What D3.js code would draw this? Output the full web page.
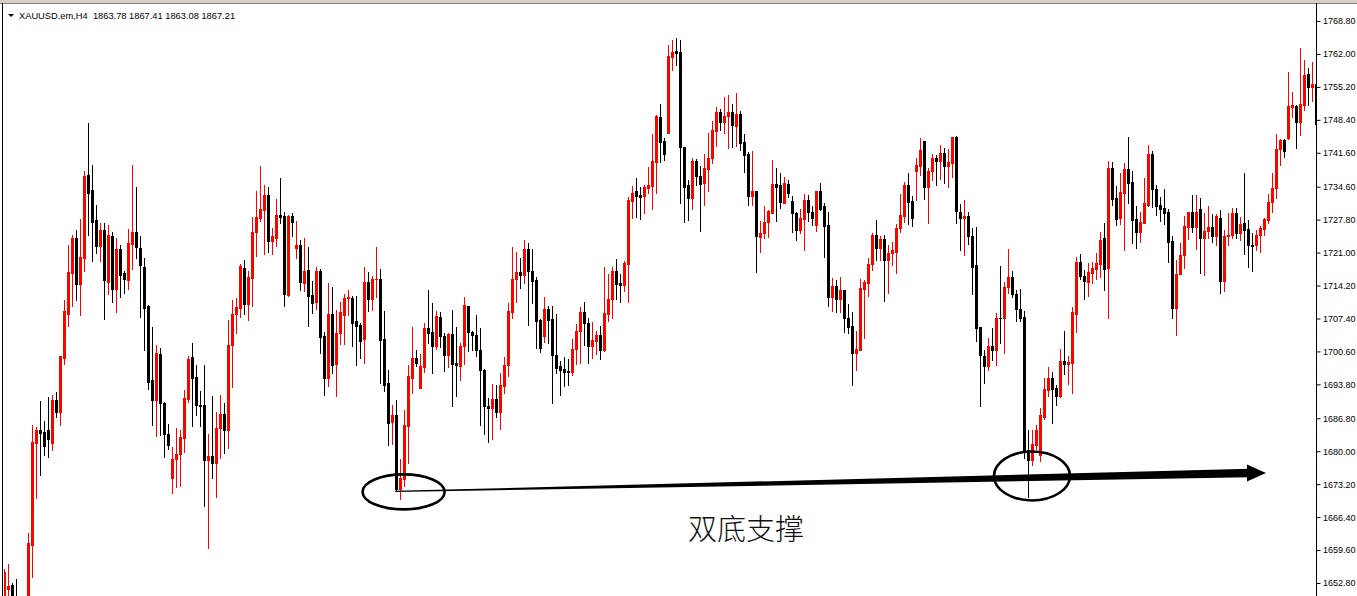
<!DOCTYPE html>
<html><head><meta charset="utf-8">
<script src="https://cdn.jsdelivr.net/npm/d3@7/dist/d3.min.js"></script>
<style>html,body{margin:0;padding:0;background:#fff;overflow:hidden}</style>
</head><body><svg id="c" width="1357" height="596"></svg>
<script>
const title = "XAUUSD.em,H4  1863.78 1867.41 1863.08 1867.21";
const annotationText = "双底支撑";
const tickLabels = ["1768.80","1762.00","1755.20","1748.40","1741.60","1734.60","1727.80","1721.00","1714.20","1707.40","1700.60","1693.80","1686.80","1680.00","1673.20","1666.40","1659.60","1652.80"];

const opens = [1645.0,1651.5,1652.3,1649.0,1644.0,1646.5,1646.0,1660.7,1681.6,1684.4,
1684.0,1684.3,1681.6,1690.6,1688.0,1699.3,1708.4,1716.7,1724.0,1714.5,
1719.9,1737.1,1733.9,1727.7,1722.3,1725.6,1715.0,1724.4,1713.4,1721.8,
1716.8,1715.4,1722.7,1725.2,1722.0,1718.1,1710.0,1694.6,1690.5,1700.1,
1690.0,1683.5,1674.5,1678.4,1679.4,1682.8,1690.8,1699.4,1695.3,1689.6,
1689.5,1678.1,1679.0,1677.5,1684.8,1687.6,1684.3,1702.0,1708.4,1709.5,
1717.9,1710.3,1715.8,1725.2,1728.1,1729.8,1732.8,1723.3,1724.0,1728.7,
1728.5,1712.3,1728.5,1722.0,1722.5,1714.7,1717.5,1712.3,1710.8,1717.3,
1703.7,1695.2,1708.4,1697.9,1704.4,1708.2,1711.7,1711.7,1706.8,1706.1,
1703.1,1714.9,1711.5,1715.5,1715.6,1703.1,1694.1,1686.1,1687.4,1672.1,
1674.2,1685.2,1695.2,1699.2,1693.0,1697.3,1705.4,1704.6,1701.7,1707.8,
1703.8,1699.8,1704.1,1698.3,1697.6,1701.7,1710.0,1704.6,1704.0,1700.8,
1696.7,1689.3,1688.9,1690.8,1688.0,1693.4,1697.7,1708.7,1715.5,1716.9,
1716.4,1721.8,1717.3,1715.3,1707.0,1703.8,1709.4,1707.2,1699.9,1697.5,
1696.9,1696.5,1696.3,1701.1,1704.9,1708.7,1706.4,1701.8,1702.8,1704.0,
1700.9,1708.4,1711.4,1717.3,1714.7,1714.3,1718.6,1731.7,1733.7,1732.8,
1732.7,1734.3,1734.7,1739.7,1749.0,1744.0,1745.7,1761.4,1762.7,1762.3,
1742.7,1734.9,1732.3,1739.9,1736.8,1735.3,1738.3,1740.6,1746.1,1750.0,
1747.9,1749.1,1750.0,1747.1,1749.6,1743.8,1741.4,1732.7,1733.8,1724.2,
1725.0,1727.4,1729.2,1735.2,1734.9,1731.3,1735.2,1731.7,1729.1,1725.6,
1727.9,1731.9,1729.4,1726.6,1733.8,1730.6,1726.6,1711.9,1714.0,1711.5,
1713.2,1707.6,1705.9,1700.2,1700.8,1713.4,1714.7,1718.6,1724.6,1722.0,
1723.8,1719.4,1720.9,1721.2,1726.1,1728.6,1735.0,1731.7,1737.9,1738.9,
1744.0,1734.5,1737.9,1740.6,1739.9,1741.6,1738.9,1739.5,1744.8,1729.4,
1728.2,1728.5,1724.4,1718.4,1705.7,1699.7,1697.5,1701.8,1700.9,1707.6,
1707.4,1713.8,1716.0,1712.5,1709.4,1707.8,1680.3,1678.1,1681.3,1679.2,
1687.0,1692.7,1695.1,1693.0,1691.4,1698.7,1697.9,1698.3,1708.4,1719.0,
1716.2,1715.0,1716.8,1717.6,1718.6,1724.0,1717.9,1738.4,1732.2,1728.1,
1733.4,1738.2,1735.6,1727.9,1725.2,1727.2,1730.9,1741.4,1734.1,1730.9,
1730.2,1729.3,1723.3,1709.6,1716.5,1720.5,1726.2,1729.4,1726.2,1730.0,
1724.0,1725.5,1726.3,1724.4,1728.2,1715.1,1724.4,1724.6,1729.2,1725.0,
1727.2,1725.9,1722.6,1722.5,1724.7,1725.9,1727.7,1731.5,1734.4,1742.4,
1744.2,1744.6,1751.1,1751.3,1747.9,1751.5,1757.8,1755.1,1755.8];

const highs = [1655.6,1656.8,1652.9,1653.6,1648.5,1649.0,1663.2,1685.4,1685.0,1690.4,
1686.3,1691.1,1691.7,1692.2,1699.7,1711.3,1722.5,1724.7,1725.7,1728.0,
1737.8,1747.8,1739.0,1730.9,1727.1,1727.1,1726.6,1725.3,1724.1,1722.5,
1717.1,1725.9,1739.0,1734.5,1724.4,1719.9,1710.2,1705.7,1701.9,1701.4,
1690.2,1685.6,1680.9,1684.8,1684.3,1692.7,1699.7,1702.4,1697.8,1692.5,
1697.7,1683.6,1691.5,1688.0,1691.6,1689.9,1707.0,1711.3,1711.7,1718.6,
1719.4,1717.3,1728.3,1733.7,1738.8,1734.9,1734.5,1726.1,1732.1,1736.4,
1729.3,1728.7,1729.1,1727.6,1723.7,1724.0,1722.1,1715.1,1718.1,1717.7,
1704.6,1714.7,1713.8,1709.1,1710.9,1712.4,1713.2,1712.1,1712.1,1706.5,
1718.0,1716.9,1716.1,1722.1,1717.7,1708.9,1696.8,1689.5,1690.6,1678.4,
1688.6,1697.8,1705.7,1700.8,1700.1,1706.4,1713.2,1710.5,1708.9,1708.7,
1704.3,1704.3,1709.1,1705.7,1702.3,1711.9,1710.0,1704.9,1708.2,1705.4,
1696.9,1691.0,1693.8,1693.7,1696.2,1699.4,1710.6,1722.1,1721.2,1719.9,
1723.7,1722.9,1721.8,1716.0,1707.2,1711.9,1709.9,1709.9,1708.4,1698.7,
1699.4,1699.0,1703.2,1706.3,1709.8,1710.8,1707.4,1706.7,1704.8,1705.8,
1718.1,1716.6,1718.1,1719.6,1716.5,1719.2,1732.4,1734.7,1736.4,1734.5,
1735.0,1738.6,1745.4,1749.4,1751.6,1744.6,1763.8,1764.9,1765.3,1764.9,
1742.7,1735.9,1740.5,1740.3,1738.8,1741.4,1745.7,1748.1,1751.1,1750.6,
1753.2,1753.5,1751.6,1753.9,1750.2,1745.4,1741.8,1741.9,1733.8,1727.6,
1730.6,1729.8,1740.1,1738.4,1737.5,1736.5,1735.9,1732.6,1729.4,1729.9,
1733.0,1732.8,1730.7,1733.8,1735.3,1731.2,1729.3,1715.8,1715.3,1716.0,
1713.2,1710.4,1708.8,1704.9,1715.6,1715.3,1719.9,1725.0,1727.7,1724.4,
1724.6,1722.5,1723.1,1726.8,1733.0,1735.6,1737.5,1732.6,1740.6,1744.6,
1744.0,1738.4,1741.4,1741.2,1743.3,1742.5,1742.3,1744.9,1745.0,1731.1,
1731.9,1729.4,1726.1,1726.2,1705.7,1700.8,1703.3,1705.4,1708.5,1718.2,
1714.9,1721.8,1717.1,1713.2,1713.5,1709.0,1684.3,1684.4,1685.4,1688.9,
1695.1,1697.3,1696.4,1693.6,1701.2,1704.9,1699.7,1709.7,1720.0,1720.7,
1717.5,1718.8,1719.0,1721.0,1725.3,1727.2,1739.9,1739.7,1734.7,1737.5,
1739.4,1744.9,1737.8,1730.6,1729.3,1736.3,1743.3,1741.9,1735.0,1732.4,
1734.1,1730.0,1724.4,1719.4,1722.9,1728.5,1729.4,1732.8,1732.8,1732.3,
1729.1,1730.7,1728.9,1728.9,1729.8,1725.6,1729.2,1730.3,1730.3,1728.3,
1737.5,1727.7,1725.0,1725.6,1726.5,1728.1,1733.0,1737.5,1745.4,1744.4,
1744.4,1758.2,1754.1,1751.5,1763.3,1760.8,1759.2,1760.4,1757.0];

const lows = [1641.0,1648.0,1645.0,1643.0,1641.0,1640.5,1644.0,1654.0,1670.3,1675.1,
1679.2,1678.8,1680.3,1687.1,1685.5,1698.1,1705.9,1709.9,1711.3,1708.2,
1717.3,1724.6,1719.2,1720.9,1719.2,1707.3,1712.4,1710.8,1708.7,1711.9,
1712.6,1713.5,1717.6,1719.9,1707.8,1700.9,1692.8,1685.5,1683.1,1683.4,
1678.9,1680.4,1671.3,1672.7,1672.9,1679.9,1690.2,1685.2,1687.4,1685.2,
1668.7,1660.1,1674.5,1670.6,1678.6,1679.6,1680.7,1693.2,1704.3,1707.8,
1708.4,1707.0,1710.0,1720.3,1727.6,1720.8,1721.2,1720.8,1722.4,1727.2,
1710.0,1712.0,1724.4,1719.9,1713.2,1713.0,1705.9,1708.5,1709.4,1700.2,
1691.7,1693.4,1696.1,1691.5,1702.2,1702.2,1708.2,1701.8,1697.8,1699.3,
1698.3,1708.9,1709.1,1711.9,1694.0,1692.5,1681.3,1681.5,1671.9,1670.2,
1672.9,1677.5,1692.1,1697.5,1693.0,1696.4,1702.3,1696.1,1701.1,1701.6,
1696.6,1697.3,1689.3,1691.3,1694.6,1697.9,1700.7,1700.9,1699.6,1685.5,
1683.5,1682.0,1682.5,1687.1,1684.5,1692.0,1695.5,1707.6,1710.8,1713.6,
1714.7,1706.1,1710.6,1701.4,1700.5,1702.6,1702.3,1689.9,1696.1,1691.7,
1693.4,1693.6,1695.8,1697.9,1698.3,1702.0,1698.2,1699.3,1700.1,1699.0,
1700.7,1706.8,1707.4,1711.5,1710.8,1713.0,1710.8,1728.1,1728.3,1728.0,
1729.1,1733.3,1730.0,1733.4,1739.7,1740.1,1745.7,1758.6,1759.7,1731.3,
1727.4,1727.8,1730.0,1735.0,1725.5,1730.8,1733.7,1739.5,1743.1,1746.2,
1745.7,1742.5,1742.7,1743.1,1742.1,1737.7,1730.9,1730.9,1717.0,1721.1,
1724.1,1724.2,1729.1,1727.6,1730.2,1731.2,1732.4,1725.3,1723.5,1725.1,
1721.5,1727.6,1726.6,1725.5,1729.8,1720.0,1710.0,1708.9,1708.7,1708.7,
1704.6,1704.3,1693.7,1696.7,1700.8,1703.4,1712.1,1717.5,1719.4,1719.4,
1711.1,1712.6,1718.4,1716.7,1725.2,1727.4,1726.8,1726.5,1731.9,1737.1,
1732.1,1727.1,1735.9,1734.9,1736.2,1735.4,1734.5,1736.7,1727.2,1721.6,
1720.5,1722.7,1712.5,1702.8,1689.3,1694.0,1696.8,1698.8,1697.7,1702.3,
1700.2,1712.6,1711.9,1706.9,1706.8,1678.6,1670.6,1677.2,1680.5,1677.9,
1686.6,1691.4,1685.9,1689.5,1691.1,1696.0,1693.8,1692.0,1704.6,1715.5,
1711.5,1712.1,1714.7,1715.5,1715.9,1713.2,1707.6,1730.8,1726.7,1727.0,
1721.6,1731.3,1722.9,1722.0,1723.1,1727.1,1730.6,1730.4,1728.7,1727.6,
1726.8,1719.0,1707.6,1704.0,1716.5,1717.9,1723.8,1725.2,1721.8,1716.8,
1716.4,1724.0,1723.2,1722.5,1712.6,1713.0,1722.5,1724.0,1724.0,1723.6,
1720.7,1718.0,1717.3,1721.5,1721.2,1724.6,1727.1,1729.3,1732.2,1739.0,
1740.7,1744.4,1748.9,1742.5,1745.3,1750.4,1751.5,1752.2,1746.0];

const closes = [1655.0,1652.1,1648.0,1646.0,1646.5,1643.5,1661.1,1682.0,1684.3,1683.8,
1681.1,1682.5,1690.6,1688.0,1699.6,1708.9,1716.9,1724.0,1714.5,1720.0,
1736.9,1733.4,1727.4,1722.3,1725.6,1715.3,1724.7,1713.4,1721.8,1716.4,
1715.5,1722.9,1725.2,1722.1,1718.4,1709.6,1694.2,1690.5,1700.3,1689.9,
1683.5,1681.3,1678.4,1679.4,1682.9,1691.0,1699.0,1695.2,1689.5,1689.3,
1678.1,1679.0,1677.5,1684.8,1687.6,1684.3,1702.0,1708.3,1709.8,1718.2,
1710.3,1716.0,1725.3,1728.3,1730.0,1732.8,1723.3,1724.4,1728.7,1728.3,
1712.4,1728.5,1727.3,1722.5,1714.9,1717.3,1712.1,1710.5,1717.3,1703.5,
1695.2,1708.4,1697.7,1704.3,1708.7,1711.7,1711.9,1706.5,1705.9,1702.8,
1714.9,1711.5,1715.5,1715.6,1702.9,1693.6,1685.9,1687.4,1672.1,1674.5,
1685.5,1695.6,1699.2,1698.3,1697.5,1705.4,1704.4,1701.7,1708.0,1703.8,
1699.8,1704.1,1698.1,1697.7,1701.8,1710.2,1704.6,1703.9,1700.8,1696.7,
1689.3,1688.9,1690.8,1688.0,1693.6,1697.8,1708.9,1715.6,1716.9,1716.4,
1721.8,1717.3,1715.1,1706.9,1701.4,1709.4,1707.0,1699.8,1697.1,1696.8,
1696.3,1696.3,1701.1,1704.8,1708.7,1706.4,1701.8,1702.9,1704.0,1700.9,
1708.5,1711.5,1717.1,1714.5,1714.3,1718.8,1731.8,1733.3,1732.7,1732.4,
1734.5,1734.9,1739.9,1749.1,1743.8,1741.4,1761.6,1762.5,1762.1,1742.7,
1734.5,1732.3,1739.9,1736.9,1735.2,1738.4,1740.6,1746.2,1750.0,1747.9,
1749.2,1750.0,1747.4,1749.6,1743.6,1741.2,1732.7,1733.8,1724.4,1725.1,
1727.4,1729.6,1735.2,1734.5,1731.5,1735.3,1733.2,1729.1,1725.6,1728.1,
1731.9,1729.3,1728.1,1733.8,1730.0,1726.5,1711.9,1714.0,1711.5,1713.2,
1707.4,1705.7,1700.2,1701.2,1713.6,1714.9,1718.6,1724.6,1722.0,1723.8,
1719.4,1721.0,1721.5,1726.1,1728.7,1735.0,1731.5,1728.2,1739.0,1742.2,
1734.5,1737.9,1740.6,1739.9,1741.6,1738.9,1739.7,1744.8,1729.6,1728.2,
1728.6,1724.4,1718.1,1705.5,1699.8,1697.5,1701.8,1700.9,1707.6,1707.4,
1713.8,1716.0,1712.4,1709.3,1707.6,1679.9,1678.1,1681.5,1684.3,1687.4,
1692.8,1695.1,1692.8,1691.5,1698.7,1697.9,1698.4,1708.7,1719.0,1716.1,
1715.1,1716.9,1717.9,1718.8,1723.7,1717.7,1738.4,1732.1,1728.0,1733.6,
1738.2,1735.4,1727.7,1725.2,1727.4,1731.2,1741.4,1734.2,1730.7,1730.0,
1729.2,1723.1,1709.6,1716.6,1720.6,1726.5,1729.4,1726.2,1729.4,1724.0,
1725.5,1726.3,1724.4,1728.5,1715.1,1724.4,1724.7,1729.1,1725.0,1727.0,
1725.6,1722.6,1722.3,1724.7,1726.1,1727.9,1731.5,1734.4,1742.4,1744.2,
1742.0,1751.3,1751.5,1747.9,1751.6,1757.7,1755.1,1755.8,1747.6];

// annotation anchors in data space: [bar index, price]
const supportStart = [97.8, 1671.7];
const supportEnd = [311.5, 1675.5];
const arrowTip = [315.5, 1675.5];
const bottom1 = [99.9, 1671.6];
const bottom2 = [257.0, 1674.9];

const W = 1357, H = 596;
const plot = {left: 4, right: 1316, top: 4, bottom: 596};
const svg = d3.select("#c");

const candles = opens.map((o, i) => ({i, o, h: highs[i], l: lows[i], c: closes[i]}));

const x = d3.scaleLinear().domain([0, candles.length - 1]).range([4, 1316]);
const tickValues = tickLabels.map(Number);
const y = d3.scaleLinear().domain([1652.8, 1768.8]).range([583, 21]);

svg.append("rect").attr("width", W).attr("height", H).attr("fill", "#fff");

svg.append("defs").append("clipPath").attr("id", "clip")
  .append("rect").attr("x", plot.left).attr("y", plot.top)
  .attr("width", plot.right - plot.left).attr("height", plot.bottom - plot.top);

const g = svg.append("g").attr("clip-path", "url(#clip)").attr("shape-rendering", "crispEdges");
const col = d => d.c >= d.o ? "#ff0000" : "#000000";

g.selectAll("rect.wick").data(candles).join("rect").attr("class", "wick")
  .attr("x", d => Math.round(x(d.i)))
  .attr("y", d => Math.round(y(d.h)))
  .attr("width", 1)
  .attr("height", d => Math.max(1, Math.round(y(d.l)) - Math.round(y(d.h)) + 1))
  .attr("fill", col);

g.selectAll("rect.body").data(candles).join("rect").attr("class", "body")
  .attr("x", d => Math.round(x(d.i)) - 1)
  .attr("y", d => Math.round(y(Math.max(d.o, d.c))))
  .attr("width", 3)
  .attr("height", d => Math.max(1, Math.round(y(Math.min(d.o, d.c))) - Math.round(y(Math.max(d.o, d.c))) + 1))
  .attr("fill", col);

// frame
svg.append("rect").attr("x", 0).attr("y", 0).attr("width", W).attr("height", 3).attr("fill", "#d4d0c8");
svg.append("line").attr("x1", 0).attr("x2", W).attr("y1", 3.5).attr("y2", 3.5).attr("stroke", "#808080");
svg.append("line").attr("x1", 2.5).attr("x2", 2.5).attr("y1", 3).attr("y2", H).attr("stroke", "#000");

// right axis
const axis = d3.axisRight(y).tickValues(tickValues).tickFormat((d, i) => tickLabels[i]).tickSize(4).tickPadding(3);
const ax = svg.append("g").attr("transform", "translate(1316.5,0)").call(axis);
ax.select(".domain").attr("stroke", "#000").attr("d", `M0,3V${H}`);
ax.selectAll(".tick line").attr("stroke", "#000");
ax.selectAll(".tick text").attr("fill", "#000").attr("font-family", "'Liberation Sans', Arial, sans-serif")
  .attr("font-size", 9).attr("x", 6.5);

// header
svg.append("path").attr("d", "M8,14 L14,14 L11,17 Z").attr("fill", "#000");
svg.append("text").attr("x", 19).attr("y", 16).attr("dy", "0.35em").text(title)
  .style("white-space", "pre").attr("xml:space", "preserve")
  .attr("font-family", "'Liberation Sans', Arial, sans-serif").attr("font-size", 9.3)
  .attr("fill", "#000");

// annotations
const ann = svg.append("g");
const sx = x(supportStart[0]), sy = y(supportStart[1]);
const ex = x(supportEnd[0]), ey = y(supportEnd[1]);
const tx = x(arrowTip[0]), ty = y(arrowTip[1]);
const w0 = 0.6, w1 = 4.2;
ann.append("path").attr("fill", "#000")
  .attr("d", `M${sx},${sy - w0} L${ex},${ey - w1} L${ex},${ey + w1} L${sx},${sy + w0} Z`);
ann.append("path").attr("fill", "#000")
  .attr("d", `M${ex - 3},${ty - 8.5} L${tx},${ty} L${ex - 3},${ty + 8.5} Z`);
ann.append("ellipse").attr("cx", x(bottom1[0])).attr("cy", y(bottom1[1])).attr("rx", 41).attr("ry", 17.5)
  .attr("fill", "none").attr("stroke", "#000").attr("stroke-width", 2.6);
ann.append("ellipse").attr("cx", x(bottom2[0])).attr("cy", y(bottom2[1])).attr("rx", 38).attr("ry", 24.5)
  .attr("fill", "none").attr("stroke", "#000").attr("stroke-width", 2.6);
ann.append("text").attr("x", 746).attr("y", 530).attr("dy", "0.36em").attr("text-anchor", "middle")
  .attr("font-family", "'Noto Sans CJK SC', sans-serif").attr("font-size", 29).attr("font-weight", 300)
  .attr("fill", "#111").text(annotationText);
</script></body></html>
